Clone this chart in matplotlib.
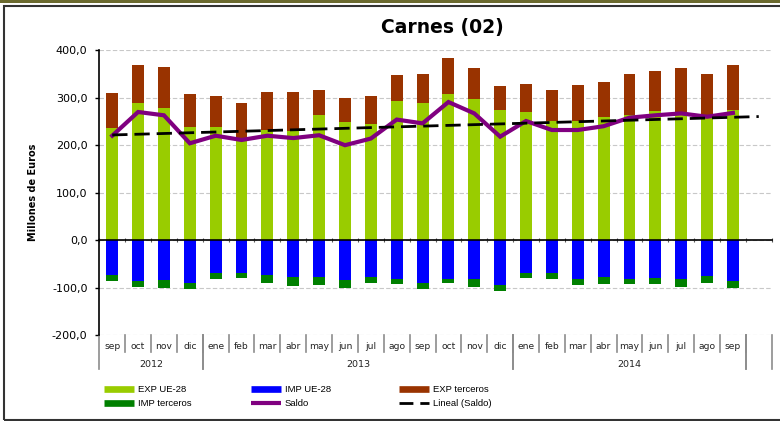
import matplotlib
matplotlib.use("Agg")
import matplotlib.pyplot as plt
import matplotlib.transforms as mtransforms
from matplotlib.lines import Line2D
from matplotlib.patches import Rectangle
import numpy as np

# Carnes (02): monthly trade, millions of euros, sep 2012 - sep 2014
months = ["sep", "oct", "nov", "dic",
          "ene", "feb", "mar", "abr", "may", "jun", "jul", "ago", "sep", "oct", "nov", "dic",
          "ene", "feb", "mar", "abr", "may", "jun", "jul", "ago", "sep"]
years = [("2012", 0, 3), ("2013", 4, 15), ("2014", 16, 24), ("", 25, 25)]

expUE = [237, 288, 279, 239, 239, 216, 233, 229, 263, 248, 244, 293, 289,
         307, 297, 274, 269, 251, 250, 260, 263, 272, 270, 260, 274]
expTerceros = [72, 80, 86, 68, 64, 73, 79, 83, 53, 52, 59, 54, 60,
               77, 66, 50, 61, 65, 76, 73, 88, 84, 93, 91, 96]
impUE = [-74, -86, -85, -91, -69, -69, -74, -78, -78, -85, -78, -82, -91,
         -81, -82, -95, -69, -70, -82, -78, -81, -79, -82, -76, -86]
impTerceros = [-12, -12, -15, -13, -14, -10, -17, -19, -17, -17, -12, -11, -13,
               -10, -16, -12, -10, -13, -13, -15, -12, -14, -16, -15, -16]
saldo = [220, 270, 263, 204, 220, 211, 220, 215, 221, 200, 214, 254, 246,
         291, 267, 218, 251, 232, 232, 240, 258, 263, 267, 260, 268]

cExpUE = "#99cc00"
cImpUE = "#0000ff"
cExpTer = "#993300"
cImpTer = "#008000"
cSaldo = "#800080"

fig = plt.figure(figsize=(7.8, 4.21), dpi=100)
ax = fig.add_axes([99.3 / 780, 1 - 335 / 421, (771.7 - 99.3) / 780, (335 - 50.3) / 421])

x = np.arange(len(months))
w = 0.46
ax.bar(x, expUE, w, color=cExpUE, zorder=2)
ax.bar(x, expTerceros, w, bottom=expUE, color=cExpTer, zorder=2)
ax.bar(x, impUE, w, color=cImpUE, zorder=2)
ax.bar(x, impTerceros, w, bottom=impUE, color=cImpTer, zorder=2)

ax.plot(x, saldo, color=cSaldo, lw=3, solid_joinstyle="miter", zorder=4)

# linear trend of Saldo, one period forecast
coef = np.polyfit(x, saldo, 1)
xt = np.arange(len(months) + 1)
ax.plot(xt, np.polyval(coef, xt), color="black", lw=2, dashes=(5.5, 2.5), zorder=5)

ax.set_xlim(-0.5, len(months) + 0.5)
ax.set_ylim(-200, 400)
ax.set_yticks(np.arange(-200, 401, 100))
ax.set_yticklabels([("%.1f" % v).replace(".", ",") for v in np.arange(-200, 401, 100)], fontsize=8)
ax.tick_params(axis="y", length=3, pad=5.5, width=1)
ax.yaxis.grid(True, color="#c8c8c8", linestyle=(0, (4, 2)), lw=0.8, zorder=0)

ax.spines["top"].set_visible(False)
ax.spines["right"].set_visible(False)
ax.spines["bottom"].set_position(("data", 0))
ax.spines["left"].set_linewidth(1.2)
ax.spines["bottom"].set_linewidth(1.2)
ax.spines["bottom"].set_zorder(3)
ax.set_xticks(np.arange(-0.5, len(months) + 1, 1))
ax.set_xticklabels([])
ax.tick_params(axis="x", direction="inout", length=3, width=0.8, color="#555555")

ax.set_ylabel("Millones de Euros", fontsize=7, fontweight="bold", labelpad=10)

# category table under the plot
tr = mtransforms.blended_transform_factory(ax.transData, ax.transAxes)
for i, m in enumerate(months):
    ax.text(i, -0.042, m, transform=tr, ha="center", va="center", fontsize=6.6, color="#222222")
for b in np.arange(0.5, len(months), 1):
    ax.plot([b, b], [0, -0.06], transform=tr, color="#8c8c8c", lw=1.2, clip_on=False)
for name, a, b in years:
    ax.text((a + b) / 2, -0.102, name, transform=tr, ha="center", va="center", fontsize=6.8, color="#222222")
    for e in (a - 0.5, b + 0.5):
        ax.plot([e, e], [0, -0.12], transform=tr, color="#8c8c8c", lw=1.2, clip_on=False)

fig.text(442 / 780, 1 - 28 / 421, "Carnes (02)", ha="center", va="center",
         fontsize=13.5, fontweight="bold")


def key(color, lw, **kw):
    return Line2D([], [], color=color, lw=lw, solid_capstyle="butt", dash_capstyle="butt", **kw)


# legend: three columns of two entries
cols = [
    (104, [key(cExpUE, 4.8), key(cImpTer, 4.8)], ["EXP UE-28", "IMP terceros"]),
    (251, [key(cImpUE, 4.8), key(cSaldo, 3)], ["IMP UE-28", "Saldo"]),
    (399, [key(cExpTer, 4.8), key("black", 2, dashes=(5, 2.5))], ["EXP terceros", "Lineal (Saldo)"]),
]
for xp, hs, ls in cols:
    fig.legend(hs, ls, loc="center left", bbox_to_anchor=(xp / 780, 1 - 396.5 / 421),
               frameon=False, borderpad=0, borderaxespad=0, handlelength=3.2,
               handletextpad=0.35, labelspacing=0.5,
               prop={"family": "Liberation Sans", "size": 6.8})

# outer frame and top strip
fig.add_artist(Rectangle((4 / 780, 1 / 421), 790 / 780, 414 / 421, transform=fig.transFigure,
                         fill=False, edgecolor="#333333", lw=1.5))
fig.add_artist(Rectangle((0, 1 - 3 / 421), 1, 3 / 421, transform=fig.transFigure,
                         facecolor="#6b6a2f", edgecolor="none"))

fig.savefig("out.png", dpi=100)
